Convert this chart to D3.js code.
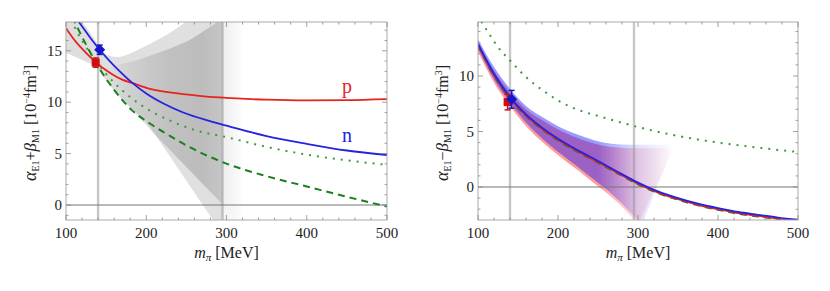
<!DOCTYPE html>
<html>
<head>
<meta charset="utf-8">
<script src="https://cdn.jsdelivr.net/npm/d3@7"></script>
<style>
body { margin: 0; background: #fff; }
svg text { font-family: "Liberation Serif", serif; fill: #222; }
</style>
</head>
<body>
<svg id="chart" width="830" height="291"></svg>
<script>
// axis ticks
const xTicks = [100, 200, 300, 400, 500];
const yTicksSum = [0, 5, 10, 15];
const yTicksDiff = [0, 5, 10];
const markLines = [140, 295];

// left panel: alpha + beta, curves as [m_pi, value]
const sumProton = [[100,17.2],[110,16.1],[120,15.2],[130,14.4],[140,13.7],[150,13.1],[160,12.6],[170,12.2],[183,11.85],[200,11.4],[225,11.0],[250,10.75],[275,10.55],[300,10.42],[350,10.24],[400,10.17],[450,10.2],[500,10.3]];
const sumNeutron = [[110,18.4],[116,17.8],[130,16.3],[142,15.1],[155,13.95],[167,13.0],[183,11.85],[200,10.85],[222,9.85],[246,9.0],[275,8.25],[300,7.72],[350,6.7],[400,5.95],[450,5.3],[500,4.86]];
const sumDotted = [[106,18.0],[120,16.0],[140,13.7],[160,11.9],[180,10.5],[200,9.4],[230,8.2],[260,7.3],[300,6.6],[350,5.65],[400,4.9],[450,4.35],[500,3.9]];
const sumDashed = [[108,18.3],[114,17.3],[125,15.6],[143,13.1],[160,11.2],[181,9.3],[205,7.9],[230,6.7],[250,5.8],[294,4.2],[350,2.8],[400,1.8],[450,0.8],[500,-0.15]];
const sumOuterUpper = [[100,19],[120,17.8],[135,16.2],[145,15.0],[155,14.5],[165,14.4],[175,14.6],[195,15.3],[215,16.1],[240,17.3],[260,18.4],[290,20],[330,23]];
const sumOuterLower = [[100,14.8],[120,14.1],[140,13.2],[150,12.1],[165,10.7],[180,9.5],[200,8.0],[220,5.8],[240,3.5],[260,1.2],[280,-1.1],[300,-3.4],[330,-7]];
const sumInnerUpper = [[150,12.8],[160,13.45],[185,14.0],[213,14.75],[235,15.4],[254,16.05],[275,17.1],[292,18.0],[330,21]];
const sumInnerLower = [[150,11.8],[192,8.4],[250,3.7],[295,0.06],[330,-2.8]];

// right panel: alpha - beta
const diffNeutron = [[100,12.9],[120,10.2],[140,8.1],[160,6.55],[180,5.35],[200,4.35],[225,3.3],[250,2.35],[275,1.35],[300,0.4],[325,-0.4],[350,-1.0],[375,-1.5],[400,-1.9],[425,-2.25],[450,-2.5],[475,-2.75],[500,-2.95]];
const diffProton = [[100,12.8],[120,10.1],[140,8.0],[160,6.45],[180,5.25],[200,4.25],[225,3.2],[250,2.25],[275,1.25],[300,0.3],[325,-0.5],[350,-1.1],[375,-1.6],[400,-2.0],[425,-2.35],[450,-2.6],[475,-2.85],[500,-3.05]];
const diffDashed = [[100,12.75],[120,10.05],[140,7.95],[160,6.4],[180,5.2],[200,4.2],[225,3.15],[250,2.2],[275,1.2],[300,0.25],[325,-0.55],[350,-1.15],[375,-1.65],[400,-2.05],[425,-2.4],[450,-2.65],[475,-2.9],[500,-3.1]];
const diffDotted = [[104,14.9],[112,14.0],[125,12.6],[140,11.4],[160,9.9],[183,8.6],[200,7.8],[225,6.95],[250,6.4],[267,6.05],[300,5.4],[350,4.6],[400,4.0],[450,3.55],[500,3.15]];
const diffBlueUpper = [[100,13.3],[120,10.8],[141.6,8.7],[160,7.3],[183,6.2],[205,5.3],[225,4.7],[246,4.2],[267,3.9],[290,3.8],[345,3.8]];
const diffBlueLower = [[100,12.5],[120,9.7],[142,7.4],[160,5.8],[183,4.2],[205,2.9],[225,1.8],[246,0.6],[267,-0.6],[292,-2.4],[305,-3.4]];
const diffRedUpper = [[100,13.0],[120,10.5],[141.6,8.4],[160,7.0],[183,5.9],[205,5.0],[225,4.4],[246,3.9],[267,3.6],[290,3.5],[345,3.5]];
const diffRedLower = [[100,12.2],[120,9.4],[142,7.1],[160,5.5],[183,3.9],[205,2.6],[225,1.5],[246,0.3],[267,-0.9],[292,-2.7],[300,-3.4]];

// data points (proton, neutron)
const pointM = [137, 142];
const sumPoint = [13.85, 15.1];
const sumErr = [0.45, 0.45];
const diffPoint = [7.65, 7.9];
const diffErr = [0.7, 0.8];

const RED = '#e8221f', BLUE = '#2323e0', DGREEN = '#1c7f1c', LGREEN = '#3d9a3d';

const svg = d3.select('#chart');
const defs = svg.append('defs');
const curve = d3.curveMonotoneX;

function makeGradient(id, color, stops, x) {
    let g = defs.append('linearGradient')
        .attr('id', id)
        .attr('gradientUnits', 'userSpaceOnUse')
        .attr('x1', x(100)).attr('x2', x(500))
        .attr('y1', 0).attr('y2', 0);
    stops.forEach(([m, o]) => {
        g.append('stop')
            .attr('offset', (m - 100) / 400)
            .attr('stop-color', color)
            .attr('stop-opacity', o);
    });
}

function bandPath(upper, lower, x, y) {
    let ln = d3.line().x(d => x(d[0])).y(d => y(d[1])).curve(curve);
    let top = ln(upper);
    let bot = ln(lower.slice().reverse());
    return top + 'L' + bot.slice(1) + 'Z';
}

function drawPanel(p) {
    let x = d3.scaleLinear().domain([100, 500]).range([p.left, p.right]);
    let y = d3.scaleLinear().domain(p.yDomain).range([p.bottom, p.top]);
    let ln = d3.line().x(d => x(d[0])).y(d => y(d[1])).curve(curve);

    defs.append('clipPath').attr('id', p.id + 'clip')
        .append('rect')
        .attr('x', p.left).attr('y', p.top)
        .attr('width', p.right - p.left).attr('height', p.bottom - p.top);

    let g = svg.append('g').attr('clip-path', `url(#${p.id}clip)`);

    p.bands.forEach((b, i) => {
        let gid = p.id + 'grad' + i;
        makeGradient(gid, b.color, b.stops, x);
        g.append('path')
            .attr('d', bandPath(b.upper, b.lower, x, y))
            .attr('fill', `url(#${gid})`);
    });

    // vertical marks and zero line
    g.selectAll('line.mark')
        .data(markLines)
        .join('line')
        .attr('x1', d => x(d)).attr('x2', d => x(d))
        .attr('y1', p.top).attr('y2', p.bottom)
        .attr('stroke', '#999').attr('stroke-opacity', 0.55)
        .attr('stroke-width', 2.4);
    g.append('line')
        .attr('x1', p.left).attr('x2', p.right)
        .attr('y1', y(0)).attr('y2', y(0))
        .attr('stroke', '#777').attr('stroke-width', 1.2);

    p.lines.forEach(l => {
        g.append('path')
            .attr('d', ln(l.data))
            .attr('fill', 'none')
            .attr('stroke', l.color)
            .attr('stroke-width', l.width || 1.8)
            .attr('stroke-dasharray', l.dash || null);
    });

    // points with error bars
    let pts = pointM.map((m, i) => ({m: m, v: p.points[i], e: p.errs[i], i: i}));
    pts.forEach(d => {
        let col = d.i === 0 ? '#cc1010' : '#1515cc';
        let cx = x(d.m);
        g.append('line')
            .attr('x1', cx).attr('x2', cx)
            .attr('y1', y(d.v - d.e)).attr('y2', y(d.v + d.e))
            .attr('stroke', col).attr('stroke-width', 1.5);
        [d.v - d.e, d.v + d.e].forEach(v => {
            g.append('line')
                .attr('x1', cx - 3).attr('x2', cx + 3)
                .attr('y1', y(v)).attr('y2', y(v))
                .attr('stroke', col).attr('stroke-width', 1.5);
        });
        if (d.i === 0) {
            g.append('rect')
                .attr('x', cx - 4).attr('y', y(d.v) - 4)
                .attr('width', 8).attr('height', 8)
                .attr('fill', col);
        } else {
            g.append('path')
                .attr('d', `M${cx},${y(d.v) - 5.5}L${cx + 5.5},${y(d.v)}L${cx},${y(d.v) + 5.5}L${cx - 5.5},${y(d.v)}Z`)
                .attr('fill', col);
        }
    });

    // frame
    svg.append('rect')
        .attr('x', p.left).attr('y', p.top)
        .attr('width', p.right - p.left).attr('height', p.bottom - p.top)
        .attr('fill', 'none').attr('stroke', '#aaa').attr('stroke-width', 1);

    // ticks on all sides, pointing inward
    let tk = svg.append('g').attr('stroke', '#888').attr('stroke-width', 0.8);
    d3.range(100, 501, 20).forEach(m => {
        let len = m % 100 === 0 ? 5 : 2.5;
        tk.append('line').attr('x1', x(m)).attr('x2', x(m)).attr('y1', p.bottom).attr('y2', p.bottom - len);
        tk.append('line').attr('x1', x(m)).attr('x2', x(m)).attr('y1', p.top).attr('y2', p.top + len);
    });
    d3.range(Math.ceil(p.yDomain[0]), Math.floor(p.yDomain[1]) + 1).forEach(v => {
        let len = v % 5 === 0 ? 5 : 2.5;
        tk.append('line').attr('y1', y(v)).attr('y2', y(v)).attr('x1', p.left).attr('x2', p.left + len);
        tk.append('line').attr('y1', y(v)).attr('y2', y(v)).attr('x1', p.right).attr('x2', p.right - len);
    });

    svg.append('g').selectAll('text')
        .data(xTicks)
        .join('text')
        .attr('x', d => x(d)).attr('y', 237.5)
        .attr('text-anchor', 'middle')
        .attr('font-size', 15)
        .text(d => d);
    svg.append('g').selectAll('text')
        .data(p.yTicks)
        .join('text')
        .attr('x', p.left - 4).attr('y', d => y(d))
        .attr('dy', '0.34em')
        .attr('text-anchor', 'end')
        .attr('font-size', 15)
        .text(d => d);

    // x label
    let xl = svg.append('text')
        .attr('x', (p.left + p.right) / 2).attr('y', 258)
        .attr('text-anchor', 'middle').attr('font-size', 16);
    xl.append('tspan').attr('font-style', 'italic').text('m');
    xl.append('tspan').attr('font-style', 'italic').attr('font-size', 11).attr('dy', 3).text('π');
    xl.append('tspan').attr('dy', -3).text(' [MeV]');

    // y label
    let yl = svg.append('text')
        .attr('transform', `translate(${p.ylabelX},123) rotate(-90)`)
        .attr('text-anchor', 'middle').attr('font-size', 16);
    yl.append('tspan').attr('font-style', 'italic').attr('font-size', 18).text('α');
    yl.append('tspan').attr('font-size', 10).attr('dy', 3).text('E1');
    yl.append('tspan').attr('dy', -3).text(p.sign);
    yl.append('tspan').attr('font-style', 'italic').attr('font-size', 17).text('β');
    yl.append('tspan').attr('font-size', 10).attr('dy', 3).text('M1');
    yl.append('tspan').attr('dy', -3).text(' [10');
    yl.append('tspan').attr('font-size', 10).attr('dy', -6).text('−4');
    yl.append('tspan').attr('dy', 6).text('fm');
    yl.append('tspan').attr('font-size', 10).attr('dy', -6).text('3');
    yl.append('tspan').attr('dy', 6).text(']');

    return {x: x, y: y};
}

const left = drawPanel({
    id: 'sum', left: 66, right: 387, top: 22, bottom: 220,
    yDomain: [-1.46, 17.8], yTicks: yTicksSum, ylabelX: 36, sign: '+',
    bands: [
        {upper: sumOuterUpper, lower: sumOuterLower, color: '#000',
         stops: [[100, 0.13], [294, 0.12], [296, 0.05], [322, 0]]},
        {upper: sumInnerUpper, lower: sumInnerLower, color: '#000',
         stops: [[150, 0.0], [180, 0.07], [230, 0.14], [270, 0.16], [293, 0.12], [296, 0.02], [322, 0]]}
    ],
    lines: [
        {data: sumDashed, color: DGREEN, dash: '7,5', width: 2},
        {data: sumDotted, color: LGREEN, dash: '2,6', width: 2},
        {data: sumProton, color: RED},
        {data: sumNeutron, color: BLUE}
    ],
    points: sumPoint, errs: sumErr
});

svg.append('text').attr('x', 347).attr('y', 93).attr('text-anchor', 'middle')
    .attr('font-size', 20).style('fill', RED).text('p');
svg.append('text').attr('x', 347).attr('y', 142).attr('text-anchor', 'middle')
    .attr('font-size', 20).style('fill', BLUE).text('n');

const right = drawPanel({
    id: 'diff', left: 478, right: 798, top: 22, bottom: 220,
    yDomain: [-2.97, 14.86], yTicks: yTicksDiff, ylabelX: 448, sign: '−',
    bands: [
        {upper: diffRedUpper, lower: diffRedLower, color: '#ff1010',
         stops: [[100, 0.42], [250, 0.42], [280, 0.24], [300, 0.13], [345, 0]]},
        {upper: diffBlueUpper, lower: diffBlueLower, color: '#1010ff',
         stops: [[100, 0.42], [250, 0.42], [280, 0.24], [300, 0.13], [345, 0]]}
    ],
    lines: [
        {data: diffDotted, color: LGREEN, dash: '2,6', width: 2},
        {data: diffDashed, color: DGREEN, dash: '7,5', width: 2},
        {data: diffProton, color: RED},
        {data: diffNeutron, color: BLUE}
    ],
    points: diffPoint, errs: diffErr
});
</script>
</body>
</html>
